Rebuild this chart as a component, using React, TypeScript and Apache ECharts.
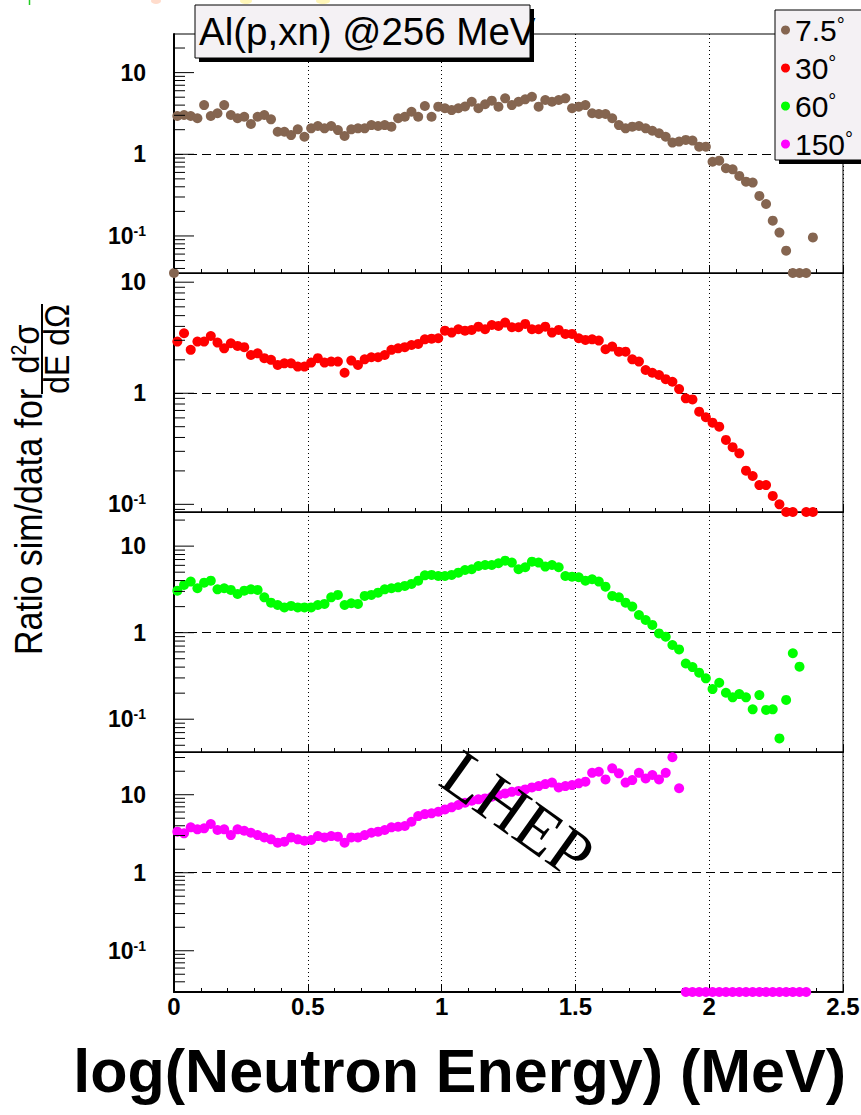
import React, { useEffect, useRef } from "react";
import * as echarts from "echarts";

// ---------------- data ----------------
// centres of the log10(E/MeV) bins
const BIN_CENTERS = [
  0.0125, 0.0375, 0.0625, 0.0875, 0.1125, 0.1375, 0.1625, 0.1875, 0.2125, 0.2375,
  0.2625, 0.2875, 0.3125, 0.3375, 0.3625, 0.3875, 0.4125, 0.4375, 0.4625, 0.4875,
  0.5125, 0.5375, 0.5625, 0.5875, 0.6125, 0.6375, 0.6625, 0.6875, 0.7125, 0.7375,
  0.7625, 0.7875, 0.8125, 0.8375, 0.8625, 0.8875, 0.9125, 0.9375, 0.9625, 0.9875,
  1.0125, 1.0375, 1.0625, 1.0875, 1.1125, 1.1375, 1.1625, 1.1875, 1.2125, 1.2375,
  1.2625, 1.2875, 1.3125, 1.3375, 1.3625, 1.3875, 1.4125, 1.4375, 1.4625, 1.4875,
  1.5125, 1.5375, 1.5625, 1.5875, 1.6125, 1.6375, 1.6625, 1.6875, 1.7125, 1.7375,
  1.7625, 1.7875, 1.8125, 1.8375, 1.8625, 1.8875, 1.9125, 1.9375, 1.9625, 1.9875,
  2.0125, 2.0375, 2.0625, 2.0875, 2.1125, 2.1375, 2.1625, 2.1875, 2.2125, 2.2375,
  2.2625, 2.2875, 2.3125, 2.3375, 2.3625, 2.3875,
];

const RATIO_7_5 = [
  2.94, 3.03, 2.94, 2.76, 4.0, 2.94, 3.18, 4.0, 3.03, 2.76,
  2.88, 2.35, 2.88, 3.03, 2.68, 1.89, 1.89, 1.72, 2.02, 1.64,
  2.08, 2.22, 2.08, 2.22, 1.98, 1.68, 2.02, 2.08, 2.08, 2.28,
  2.22, 2.28, 2.18, 2.76, 2.88, 3.32, 2.88, 3.9, 2.88, 3.83,
  3.66, 3.48, 3.66, 3.85, 4.4, 3.66, 4.1, 4.53, 3.83, 4.84,
  4.0, 4.4, 4.71, 5.07, 3.83, 4.62, 4.4, 4.62, 4.84, 3.66,
  3.83, 4.0, 3.18, 3.11, 3.11, 2.76, 2.28, 2.08, 2.18, 2.22,
  2.08, 1.94, 1.81, 1.64, 1.39, 1.43, 1.5, 1.47, 1.24, 1.24,
  0.81, 0.835, 0.674, 0.655, 0.543, 0.462, 0.45, 0.309, 0.246, 0.154,
  0.11, 0.066, null, null, null, 0.096,
];

const RATIO_30 = [
  2.92, 3.47, 2.46, 2.92, 2.92, 3.28, 2.86, 2.54, 2.82, 2.67,
  2.6, 2.21, 2.29, 2.07, 2.0, 1.8, 1.86, 1.86, 1.74, 1.74,
  1.89, 2.07, 1.89, 1.93, 1.93, 1.53, 1.97, 1.8, 2.02, 2.11,
  2.11, 2.21, 2.46, 2.54, 2.6, 2.72, 2.78, 3.06, 3.1, 3.13,
  3.66, 3.52, 3.77, 3.66, 3.72, 3.98, 3.77, 4.12, 4.04, 4.33,
  3.93, 3.93, 4.21, 3.77, 3.77, 3.98, 3.52, 3.72, 3.42, 3.42,
  3.13, 3.02, 3.06, 2.98, 2.49, 2.63, 2.37, 2.37, 2.02, 1.93,
  1.62, 1.53, 1.46, 1.34, 1.27, 1.09, 0.9, 0.88, 0.683, 0.608,
  0.544, 0.5, 0.38, 0.327, 0.288, 0.201, 0.18, 0.149, 0.149, 0.119,
  0.1, null, null, null, null, null,
];

const RATIO_60 = [
  3.06, 3.56, 3.89, 3.26, 3.78, 3.99, 3.17, 3.26, 3.12, 2.8,
  3.06, 3.17, 3.12, 2.56, 2.22, 2.09, 1.96, 2.04, 1.96, 1.96,
  1.96, 2.09, 2.15, 2.56, 2.73, 2.09, 2.19, 2.15, 2.66, 2.73,
  2.9, 3.17, 3.26, 3.34, 3.47, 3.66, 3.99, 4.6, 4.65, 4.52,
  4.52, 4.65, 4.94, 5.3, 5.4, 5.9, 6.06, 6.06, 6.34, 6.8,
  6.45, 5.4, 5.7, 6.62, 6.45, 5.8, 6.06, 5.7, 4.52, 4.44,
  4.37, 3.99, 4.14, 3.89, 3.4, 2.66, 2.56, 2.22, 2.0, 1.6,
  1.4, 1.23, 0.98, 0.9, 0.72, 0.64, 0.44, 0.4, 0.345, 0.297,
  0.223, 0.264, 0.202, 0.179, 0.195, 0.179, 0.13, 0.19, 0.128, 0.13,
  0.06, 0.167, 0.578, 0.405, null, null,
];

const RATIO_150 = [
  3.36, 3.2, 3.82, 3.6, 3.71, 4.21, 3.53, 3.6, 3.04, 3.6,
  3.45, 3.26, 3.04, 2.84, 2.68, 2.43, 2.5, 2.84, 2.68, 2.57,
  2.63, 2.95, 2.84, 2.95, 2.9, 2.43, 2.84, 2.84, 3.04, 3.26,
  3.36, 3.53, 3.82, 3.89, 3.97, 4.5, 5.33, 5.65, 5.77, 6.05,
  6.49, 6.89, 7.38, 7.89, 8.37, 8.73, 8.98, 9.42, 9.91, 10.4,
  10.9, 11.2, 11.7, 12.4, 12.9, 13.7, 14.3, 12.4, 12.9, 13.3,
  14.0, 14.7, 19.1, 19.7, 15.7, 21.8, 18.8, 14.3, 15.4, 19.1,
  16.2, 17.9, 15.7, 19.1, 30.2, 12.1, null, null, null, null,
  null, null, null, null, null, null, null, null, null, null,
  null, null, null, null, null, null,
];

// bins whose ratio lies below the plotted range (drawn on the lower frame)
const BELOW_7_5 = [0.0, 2.3125, 2.3375, 2.3625];
const BELOW_30 = [2.2875, 2.3125, 2.3625, 2.3875];
const BELOW_60: number[] = [];
const BELOW_150 = [
  1.9125, 1.9375, 1.9625, 1.9875, 2.0125, 2.0375, 2.0625, 2.0875, 2.1125, 2.1375,
  2.1625, 2.1875, 2.2125, 2.2375, 2.2625, 2.2875, 2.3125, 2.3375, 2.3625,
];

const SERIES_NAMES = ["7.5°", "30°", "60°", "150°"];
const SERIES_COLORS = ["#856550", "#ff0000", "#00ff00", "#ff00ff"];
const Y_RANGES: [number, number][] = [
  [0.0352, 29.7],
  [0.0853, 12.1],
  [0.0418, 24.8],
  [0.0296, 35.3],
];
const Y_MAJOR_TICKS = [0.1, 1, 10];
const Y_MINOR_TICKS = [
  0.02, 0.03, 0.04, 0.05, 0.06, 0.07, 0.08, 0.09,
  0.2, 0.3, 0.4, 0.5, 0.6, 0.7, 0.8, 0.9,
  2, 3, 4, 5, 6, 7, 8, 9,
  20, 30, 40,
];
const TITLE = "Al(p,xn) @256 MeV";
const X_TITLE = "log(Neutron Energy) (MeV)";
const Y_TITLE = "Ratio sim/data for";

// ---------------- layout ----------------
const W = 861;
const H = 1115;
const PLOT_LEFT = 174;
const PLOT_RIGHT = 843;
const PANEL_EDGES: [number, number][] = [
  [34, 273],
  [273, 512],
  [512, 752],
  [752, 992],
];
const SANS = '"Liberation Sans", Arial, Helvetica, sans-serif';
const SERIF = '"Liberation Serif", "Times New Roman", serif';

function buildOption() {
  const values = [RATIO_7_5, RATIO_30, RATIO_60, RATIO_150];
  const below = [BELOW_7_5, BELOW_30, BELOW_60, BELOW_150];

  const grid = PANEL_EDGES.map(([t, b]) => ({
    left: PLOT_LEFT,
    right: W - PLOT_RIGHT,
    top: t,
    height: b - t,
    show: true,
    borderColor: "#000",
    borderWidth: 1,
    backgroundColor: "transparent",
    containLabel: false,
    outerBoundsMode: "none",
  }));

  const xAxis = PANEL_EDGES.map((_, k) => ({
    type: "value",
    gridIndex: k,
    min: 0,
    max: 2.5,
    interval: 0.5,
    axisLine: { show: true, onZero: false, lineStyle: { color: "#000", width: k === 3 ? 2 : 1 } },
    axisTick: { show: true, inside: true, length: 8, lineStyle: { color: "#000", width: 1 } },
    minorTick: { show: true, splitNumber: 5, length: 4, lineStyle: { color: "#000", width: 1 } },
    axisLabel: {
      show: k === 3,
      color: "#000",
      fontFamily: SANS,
      fontWeight: "bold",
      fontSize: 24,
      margin: 2,
    },
    splitLine: { show: true, lineStyle: { type: [1, 3], color: "#000", width: 1 } },
    minorSplitLine: { show: false },
  }));

  const yAxis = PANEL_EDGES.map((_, k) => ({
    type: "log",
    logBase: 10,
    gridIndex: k,
    min: Y_RANGES[k][0],
    max: Y_RANGES[k][1],
    axisLine: { show: true, lineStyle: { color: "#000", width: 2 } },
    axisTick: { show: false },
    minorTick: { show: false },
    splitLine: { show: false },
    axisLabel: {
      show: true,
      margin: 28,
      color: "#000",
      fontFamily: SANS,
      fontWeight: "bold",
      fontSize: 23,
      formatter: (v: number) => {
        const l = Math.log10(v);
        const r = Math.round(l);
        if (Math.abs(l - r) > 1e-6) return "";
        if (r === 0) return "1";
        if (r === 1) return "10";
        return `10{s|${r}}`;
      },
      rich: {
        s: { fontSize: 14, fontWeight: "bold", fontFamily: SANS, color: "#000", verticalAlign: "top", padding: [0, 0, 10, 0] },
      },
    },
  }));

  const series: any[] = [];
  PANEL_EDGES.forEach((_, k) => {
    const pts: [number, number][] = [];
    BIN_CENTERS.forEach((x, i) => {
      const v = values[k][i];
      if (v !== null && v !== undefined) pts.push([x, v as number]);
    });
    below[k].forEach((x) => pts.push([x, Y_RANGES[k][0]]));
    series.push({
      type: "scatter",
      name: SERIES_NAMES[k],
      xAxisIndex: k,
      yAxisIndex: k,
      symbol: "circle",
      symbolSize: 10,
      itemStyle: { color: SERIES_COLORS[k], opacity: 1 },
      data: pts,
      z: 4,
      clip: true,
      markLine: {
        silent: true,
        symbol: "none",
        label: { show: false },
        lineStyle: { type: [9, 5], color: "#000", width: 1 },
        data: [{ yAxis: 1 }],
        z: 3,
      },
    });
    // left axis ticks (ROOT style: decades long, 2..9 short)
    const [lo, hi] = Y_RANGES[k];
    const ticks = [
      ...Y_MAJOR_TICKS.filter((v) => v > lo && v < hi).map((v) => [0, v, 20]),
      ...Y_MINOR_TICKS.filter((v) => v > lo && v < hi).map((v) => [0, v, 11]),
    ];
    series.push({
      type: "custom",
      name: "ticks" + k,
      xAxisIndex: k,
      yAxisIndex: k,
      silent: true,
      z: 5,
      data: ticks,
      renderItem: (_params: any, api: any) => {
        const p = api.coord([api.value(0), api.value(1)]);
        const len = api.value(2);
        return {
          type: "line",
          shape: { x1: p[0], y1: p[1], x2: p[0] + len, y2: p[1] },
          style: { stroke: "#000", lineWidth: 1 },
        };
      },
    });
  });

  const boxFill = "#f4f1f4";
  const YS = 1.12; // vertical stretch of the rotated y title glyphs

  const graphic: any[] = [
    // faint remnants at the very top
    { type: "line", z: 1, shape: { x1: 29.5, y1: 0, x2: 29.5, y2: 5 }, style: { stroke: "#22cc22", lineWidth: 1.5 } },
    { type: "ellipse", z: 1, shape: { cx: 156, cy: 1, rx: 5, ry: 3 }, style: { fill: "#ffdccc" } },
    { type: "ellipse", z: 1, shape: { cx: 246, cy: 1, rx: 6, ry: 3 }, style: { fill: "#fff6b8" } },
    { type: "ellipse", z: 1, shape: { cx: 323, cy: 1, rx: 7, ry: 3 }, style: { fill: "#fff6b8" } },
    // title box
    { type: "rect", z: 15, shape: { x: 199, y: 9, width: 335, height: 53 }, style: { fill: "#000" } },
    { type: "rect", z: 16, shape: { x: 195, y: 5, width: 335, height: 53 }, style: { fill: boxFill, stroke: "#000", lineWidth: 1 } },
    {
      type: "text", z: 17, x: 199, y: 31,
      style: { text: TITLE, fontSize: 38.5, fontFamily: SANS, fill: "#000", align: "left", verticalAlign: "middle" },
    },
    // legend box
    { type: "rect", z: 15, shape: { x: 779, y: 14, width: 90, height: 150 }, style: { fill: "#000" } },
    { type: "rect", z: 16, shape: { x: 775, y: 10, width: 90, height: 150 }, style: { fill: boxFill, stroke: "#000", lineWidth: 1 } },
    // y-axis title (rotated)
    {
      type: "group", x: 42, y: 655, rotation: Math.PI / 2, z: 10,
      children: [
        {
          type: "text", z: 10, x: 0, y: -13, scaleY: YS,
          style: { text: Y_TITLE, fontSize: 34, fontFamily: SANS, fill: "#000", align: "left", verticalAlign: "middle" },
        },
        { type: "line", z: 10, shape: { x1: 261, y1: 0, x2: 351, y2: 0 }, style: { stroke: "#000", lineWidth: 2 } },
        {
          type: "text", z: 10, x: 306, y: -16, scaleY: YS,
          style: {
            text: "{a|d}{s|2}{a|σ}",
            align: "center",
            verticalAlign: "middle",
            rich: {
              a: { fontSize: 33, fontFamily: SANS, fill: "#000" },
              s: { fontSize: 19, fontFamily: SANS, fill: "#000", verticalAlign: "top" },
            },
          },
        },
        {
          type: "text", z: 10, x: 306, y: 14, scaleY: YS,
          style: { text: "dE dΩ", fontSize: 32, fontFamily: SANS, fill: "#000", align: "center", verticalAlign: "middle" },
        },
      ],
    },
    // x-axis title
    {
      type: "text", z: 10, x: 846, y: 1071,
      style: { text: X_TITLE, fontSize: 61, fontWeight: "bold", fontFamily: SANS, fill: "#000", align: "right", verticalAlign: "middle" },
    },
    // watermark
    {
      type: "text", z: 12, x: 518, y: 814, rotation: -0.62,
      style: { text: "LHEP", fontSize: 67, fontFamily: SERIF, fill: "#000", align: "center", verticalAlign: "middle" },
    },
  ];

  return {
    animation: false,
    backgroundColor: "#fff",
    textStyle: { fontFamily: SANS },
    grid,
    xAxis,
    yAxis,
    series,
    legend: {
      data: SERIES_NAMES.map((n) => ({ name: n, icon: "circle" })),
      orient: "vertical",
      left: 781,
      top: 15,
      itemWidth: 9,
      itemHeight: 9,
      itemGap: 8,
      padding: 0,
      selectedMode: false,
      z: 20,
      textStyle: {
        fontSize: 30,
        fontFamily: SANS,
        color: "#000",
        rich: {
          deg: { fontSize: 20, lineHeight: 10, fontFamily: SANS, color: "#000", verticalAlign: "top" },
        },
      },
      formatter: (n: string) => n.replace("°", "") + "{deg|°}",
    },
    graphic,
  };
}

export default function App() {
  const ref = useRef<HTMLDivElement | null>(null);
  useEffect(() => {
    if (!ref.current) return;
    const chart = echarts.init(ref.current, null, { renderer: "svg", width: W, height: H });
    chart.setOption(buildOption() as any);
    return () => chart.dispose();
  }, []);
  return (
    <div
      ref={ref}
      style={{ position: "absolute", left: 0, top: 0, width: W, height: H, background: "#fff" }}
    />
  );
}
